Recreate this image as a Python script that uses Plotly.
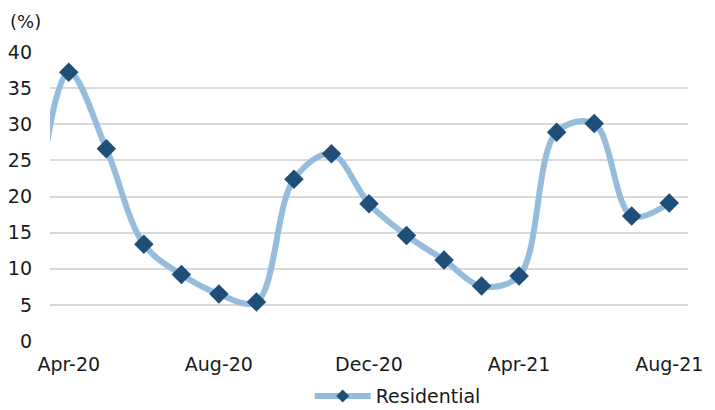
import plotly.graph_objects as go

months = ["Mar-20", "Apr-20", "May-20", "Jun-20", "Jul-20", "Aug-20", "Sep-20", "Oct-20",
          "Nov-20", "Dec-20", "Jan-21", "Feb-21", "Mar-21", "Apr-21", "May-21",
          "Jun-21", "Jul-21", "Aug-21"]
residential = [11.5, 37.2, 26.6, 13.4, 9.2, 6.5, 5.4, 22.4, 25.9, 19.0, 14.6, 11.2, 7.6,
               9.0, 28.9, 30.1, 17.3, 19.1]
tick_labels = ["Apr-20", "Aug-20", "Dec-20", "Apr-21", "Aug-21"]
y_ticks = [0, 5, 10, 15, 20, 25, 30, 35, 40]

FONT = "DejaVu Sans"
TXT = "#1a1a1a"
LINE_C = "#96BCDD"
MARK_C = "#1F4E79"

fig = go.Figure()
fig.add_trace(go.Scatter(
    x=months, y=residential, name="Residential", mode="lines+markers",
    line=dict(color=LINE_C, width=6, shape="spline", smoothing=1),
    marker=dict(symbol="diamond", size=15, color=MARK_C),
    showlegend=False,
))
# legend entry (smaller marker, as in the reference)
fig.add_trace(go.Scatter(
    x=[None], y=[None], name="Residential", mode="lines+markers",
    line=dict(color=LINE_C, width=6),
    marker=dict(symbol="diamond", size=10, color=MARK_C),
    showlegend=True,
))

fig.update_layout(
    width=715, height=410,
    margin=dict(l=50, r=27, t=52, b=69, autoexpand=False),
    paper_bgcolor="white", plot_bgcolor="white",
    font=dict(family=FONT, size=19, color=TXT),
    showlegend=True,
    legend=dict(orientation="h", x=0.545, xanchor="center", y=-0.125, yanchor="top",
                font=dict(family=FONT, size=19, color=TXT), itemwidth=56,
                bgcolor="rgba(0,0,0,0)"),
    xaxis=dict(type="category", categoryorder="array", categoryarray=months,
               range=[0.5, len(months) - 0.5],
               tickvals=tick_labels, ticktext=tick_labels,
               showgrid=False, zeroline=False, showline=False, ticks="",
               ticklabelstandoff=10,
               tickfont=dict(family=FONT, size=19, color=TXT)),
    yaxis=dict(range=[0, 40], tickvals=y_ticks, showgrid=True, gridcolor="#D9D9D9",
               gridwidth=2, zeroline=False, showline=False, ticks="",
               ticklabelstandoff=17,
               tickfont=dict(family=FONT, size=19, color=TXT)),
    annotations=[dict(text="(%)", xref="paper", yref="paper", x=-0.038, y=1.105,
                      xanchor="center", yanchor="middle", showarrow=False,
                      font=dict(family=FONT, size=18, color=TXT))],
)

fig.write_html("out.html")
